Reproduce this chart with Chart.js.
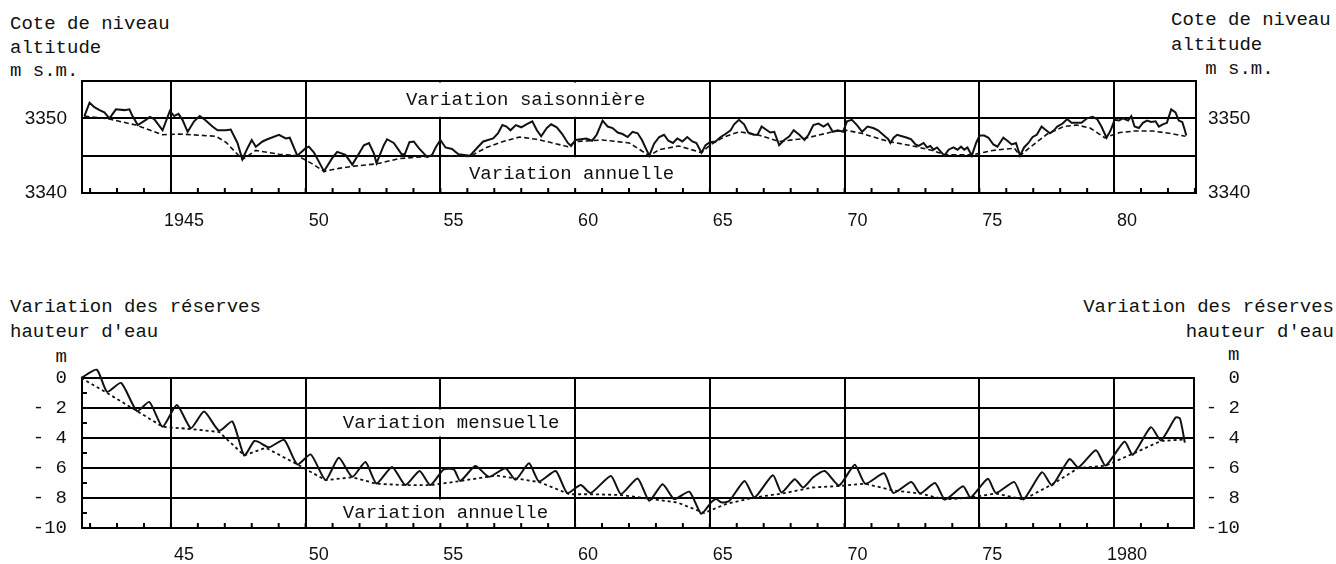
<!DOCTYPE html>
<html>
<head>
<meta charset="utf-8">
<script src="https://cdn.jsdelivr.net/npm/chart.js@4.4.1/dist/chart.umd.min.js"></script>
<style>
  html, body { margin: 0; padding: 0; background: #fff; }
  body { width: 1336px; height: 564px; position: relative; overflow: hidden; }
  canvas { position: absolute; left: 0; }
  #levelChart { top: 0; }
  #reserveChart { top: 260px; }
  .note { position: absolute; font: 19px "Liberation Mono", monospace; color: #111; white-space: pre; }
</style>
</head>
<body>
<div class="note" style="left:10px; top:13px; line-height:23.5px">Cote de niveau
altitude
m s.m.</div>
<div class="note" style="left:1171px; top:8px; line-height:24.5px">Cote de niveau
altitude
   m s.m.</div>
<div class="note" style="left:10px; top:295px; line-height:25px">Variation des réserves
hauteur d'eau
    m</div>
<div class="note" style="right:2px; top:295px; line-height:25px; text-align:right">Variation des réserves
hauteur d'eau</div>
<div class="note" style="left:1228px; top:343px; line-height:25px">m</div>

<canvas id="levelChart" width="1336" height="250"></canvas>
<canvas id="reserveChart" width="1336" height="304"></canvas>

<script>
// --- data ---------------------------------------------------------------
// lake level, seasonal readings (m above sea)
const levelYears = [
  1941.79,1941.98,1942.16,1942.35,1942.53,1942.72,1942.96,1943.27,1943.46,1943.56,1943.77,1944.07,1944.22,1944.38,1944.69,1944.96,
  1945.12,1945.28,1945.43,1945.62,1945.86,1946.07,1946.23,1946.54,1946.73,1947.04,1947.22,1947.47,1947.65,1947.84,1948.00,1948.15,1948.40,1948.58,1949.01,1949.26,1949.41,1949.69,
  1950.00,1950.12,1950.31,1950.49,1950.68,1950.99,1951.17,1951.48,1951.73,1951.98,1952.16,1952.35,1952.53,1952.63,1952.90,1953.02,1953.27,1953.56,1953.68,1953.85,1954.01,1954.20,1954.51,1954.69,1954.84,
  1955.00,1955.19,1955.43,1955.67,1956.10,1956.40,1956.59,1956.96,1957.14,1957.30,1957.45,1957.60,1957.80,1958.00,1958.19,1958.41,1958.58,1958.74,1958.95,1959.11,1959.32,1959.52,1959.73,1959.85,
  1960.01,1960.22,1960.41,1960.63,1960.80,1961.02,1961.21,1961.39,1961.58,1961.76,1961.95,1962.13,1962.32,1962.48,1962.62,1962.75,1962.93,1963.12,1963.30,1963.46,1963.63,1963.79,1963.98,1964.16,1964.35,1964.50,1964.69,1964.84,
  1965.00,1965.21,1965.40,1965.58,1965.77,1965.90,1966.08,1966.27,1966.42,1966.62,1966.77,1966.92,1967.08,1967.24,1967.39,1967.57,1967.76,1967.95,1968.11,1968.32,1968.51,1968.66,1968.84,1969.03,1969.22,1969.38,1969.56,1969.75,1969.94,
  1970.09,1970.27,1970.46,1970.65,1970.85,1971.06,1971.24,1971.43,1971.62,1971.70,1971.82,1971.95,1972.13,1972.32,1972.47,1972.63,1972.75,1972.93,1973.06,1973.18,1973.30,1973.43,1973.55,1973.70,1973.86,1974.04,1974.19,1974.32,1974.44,1974.56,1974.72,1974.88,
  1975.01,1975.18,1975.34,1975.52,1975.67,1975.89,1976.04,1976.20,1976.36,1976.51,1976.66,1976.82,1976.98,1977.13,1977.31,1977.44,1977.62,1977.77,1977.89,1978.09,1978.26,1978.42,1978.61,1978.79,1979.00,1979.20,1979.37,1979.53,1979.72,1979.86,
  1980.02,1980.18,1980.33,1980.52,1980.64,1980.76,1980.92,1981.07,1981.22,1981.38,1981.54,1981.66,1981.81,1981.96,1982.12,1982.28,1982.40,1982.53,1982.61,1982.68
];
const levelSeason = [
  3350.3,3352.1,3351.5,3351.1,3350.8,3350.0,3351.2,3351.1,3351.2,3350.4,3349.1,3349.8,3350.2,3349.9,3348.4,3351.0,
  3350.3,3350.6,3349.8,3348.2,3349.6,3350.3,3349.9,3348.9,3348.4,3348.4,3348.5,3346.7,3344.5,3346.0,3347.1,3346.2,3346.9,3347.2,3347.8,3347.3,3347.4,3345.0,
  3346.0,3346.2,3345.4,3344.2,3342.9,3344.7,3345.5,3345.1,3343.8,3345.3,3346.4,3346.7,3345.3,3344.0,3346.4,3347.2,3346.7,3345.2,3345.2,3346.8,3346.9,3346.0,3344.8,3345.1,3346.2,
  3347.1,3346.1,3345.9,3345.2,3345.0,3346.2,3346.9,3347.3,3348.0,3349.1,3348.9,3348.4,3349.1,3348.8,3349.2,3349.6,3348.4,3347.6,3348.7,3349.2,3348.8,3347.9,3346.7,3346.3,
  3347.1,3347.2,3347.3,3347.0,3347.8,3349.7,3348.9,3348.7,3348.1,3347.9,3347.5,3348.2,3348.0,3347.1,3346.0,3345.0,3346.6,3347.5,3347.8,3347.0,3346.7,3347.3,3346.9,3347.5,3346.9,3346.7,3345.4,3346.4,
  3346.8,3346.9,3347.5,3347.9,3348.4,3349.2,3349.8,3349.2,3348.1,3347.8,3347.8,3348.9,3348.5,3348.1,3348.2,3346.4,3347.1,3347.6,3348.4,3347.8,3347.1,3347.8,3349.1,3349.3,3348.9,3349.3,3348.2,3348.4,3348.2,
  3349.6,3349.8,3349.1,3348.2,3348.9,3348.7,3348.4,3347.8,3347.2,3346.7,3347.4,3347.8,3347.6,3347.4,3347.2,3346.5,3346.3,3346.7,3346.1,3346.3,3345.8,3346.1,3345.6,3345.0,3345.8,3346.1,3345.8,3346.2,3345.8,3346.1,3345.0,3346.7,
  3347.7,3347.7,3347.4,3346.5,3346.2,3347.4,3347.0,3346.5,3346.7,3345.0,3346.1,3346.7,3347.5,3347.8,3348.9,3348.5,3348.0,3348.4,3348.9,3349.3,3349.9,3349.4,3349.4,3349.4,3350.0,3350.2,3349.9,3348.9,3347.4,3348.3,
  3349.8,3349.7,3350.0,3349.7,3350.3,3348.9,3348.7,3349.4,3349.7,3349.5,3349.6,3348.9,3349.2,3349.4,3351.2,3350.8,3349.7,3349.5,3348.6,3347.7
];
// lake level, annual readings
const levelAnnualYears = [
  1941.79,1942.72,1943.70,1944.69,1945.31,1946.67,1947.04,1947.65,1948.15,1949.01,1949.69,1950.25,1950.68,1951.23,1951.79,1952.63,1953.46,1954.51,1955.00,1956.10,
  1956.71,1957.33,1957.94,1958.56,1959.17,1959.73,1960.04,1961.02,1962.01,1962.75,1963.12,1963.85,1964.69,1965.00,1965.52,1966.08,1966.77,1967.57,1968.51,1969.56,
  1970.06,1970.62,1971.62,1972.40,1973.26,1973.74,1974.72,1975.50,1976.30,1976.51,1976.91,1977.52,1978.13,1978.62,1979.11,1979.66,1980.21,1980.76,1981.43,1982.04,1982.65
];
const levelAnnual = [
  3350.3,3349.9,3349.1,3347.8,3347.9,3347.6,3346.8,3344.5,3345.7,3345.2,3345.0,3343.9,3342.9,3343.3,3343.6,3343.9,3344.6,3344.9,3345.0,3344.9,
  3346.1,3346.9,3347.5,3347.2,3346.7,3346.2,3346.9,3347.1,3346.7,3345.0,3345.8,3346.3,3345.4,3346.4,3347.5,3348.2,3347.8,3346.9,3347.3,3348.2,
  3348.4,3348.0,3346.9,3346.4,3345.7,3345.1,3345.1,3345.7,3346.0,3345.0,3346.2,3347.9,3348.9,3349.1,3348.7,3347.4,3348.1,3348.3,3348.3,3348.0,3347.6
];

// storage change, monthly readings (m of water)
const resYears = [
  1941.67,1942.25,1942.63,1943.15,1943.74,1944.20,1944.69,1945.22,1945.74,1946.23,1946.79,1947.28,1947.72,1948.09,1948.27,1948.64,1949.20,1949.69,
  1950.19,1950.74,1951.23,1951.73,1952.22,1952.63,1953.21,1953.70,1954.23,1954.63,1955.12,1955.50,1955.74,1956.30,1956.80,1957.42,1957.79,1958.29,1958.66,1959.28,1959.71,
  1960.21,1960.58,1961.33,1961.70,1962.32,1962.75,1963.25,1963.68,1964.24,1964.68,1965.05,1965.24,1965.42,1965.72,1966.29,1966.66,1967.34,1967.66,1968.15,1968.46,1968.85,1969.27,1969.80,
  1970.38,1970.77,1971.47,1971.81,1972.48,1972.81,1973.36,1973.73,1974.40,1974.68,1975.32,1975.62,1976.30,1976.64,1977.33,1977.70,1978.35,1978.68,1979.33,1979.69,
  1980.39,1980.70,1981.37,1981.74,1982.29,1982.45,1982.63
];
const resMonthly = [
  0.0,0.55,-0.92,-0.33,-2.2,-1.6,-3.25,-1.8,-3.34,-2.24,-3.52,-2.9,-5.16,-4.2,-4.28,-4.62,-4.13,-5.76,
  -5.1,-6.81,-5.32,-6.59,-5.6,-7.03,-5.93,-7.14,-6.2,-7.14,-6.1,-6.09,-6.86,-5.87,-6.59,-6.02,-6.79,-5.69,-6.9,-6.2,-7.67,
  -7.14,-7.67,-6.53,-7.74,-6.7,-8.18,-7.08,-8.07,-7.58,-9.05,-8.29,-8.07,-8.29,-8.2,-6.86,-7.96,-6.48,-7.63,-6.75,-7.3,-6.6,-6.2,-7.16,
  -5.78,-7.05,-6.35,-7.66,-6.94,-7.7,-7.0,-8.1,-7.22,-7.96,-6.72,-7.66,-6.94,-8.1,-6.28,-7.16,-5.4,-5.95,-4.81,-5.84,
  -4.24,-5.12,-3.28,-4.16,-2.63,-2.7,-4.31
];
// storage change, annual readings
const resAnnualYears = [
  1941.67,1942.63,1943.74,1944.69,1945.74,1946.79,1947.72,1948.52,1949.69,1950.74,1951.73,1952.63,1953.70,1954.63,1955.47,1957.07,1958.68,1959.79,1960.65,1961.70,
  1962.75,1963.80,1964.79,1965.60,1966.66,1967.70,1968.80,1969.80,1970.77,1971.81,1972.81,1973.73,1974.68,1975.62,1976.64,1977.70,1978.68,1979.69,1980.70,1981.74,1982.63
];
const resAnnual = [
  0.0,-1.0,-2.2,-3.25,-3.4,-3.6,-5.16,-4.65,-5.76,-6.81,-6.62,-7.05,-7.14,-7.14,-6.94,-6.5,-6.94,-7.75,-7.75,-7.8,
  -8.05,-8.3,-9.0,-8.4,-7.96,-7.7,-7.3,-7.2,-7.05,-7.5,-7.7,-8.1,-7.96,-7.7,-8.1,-7.1,-6.0,-5.84,-5.05,-4.2,-4.1
];

// axis labels
const labelYears = [1945, 1950, 1955, 1960, 1965, 1970, 1975, 1980];
const levelYearLabels = ['1945', '50', '55', '60', '65', '70', '75', '80'];
const reserveYearLabels = ['45', '50', '55', '60', '65', '70', '75', '1980'];
const levelTickValues = [3340, 3350];
const reserveTickValues = [0, -2, -4, -6, -8, -10];
const reserveTickLabels = ['0', '- 2', '- 4', '- 6', '- 8', '-10'];
const reserveMinorTicks = [-1, -3, -5, -7, -9];

const INK = '#111';
const SANS = '"Liberation Sans", Arial, sans-serif';
const MONO = '"Liberation Mono", "Courier New", monospace';

function points(xs, ys) {
    return xs.map((x, i) => ({x: x, y: ys[i]}));
}

// band captions (white ground stops the vertical grid there) + inward yearly ticks
const decor = {
    id: 'decor',
    beforeDatasetsDraw(chart, args, opts) {
        const ctx = chart.ctx;
        const a = chart.chartArea;
        const x = chart.scales.x, y = chart.scales.y;
        ctx.save();
        ctx.font = '19px ' + MONO;
        ctx.textBaseline = 'middle';
        (opts.bands || []).forEach(b => {
            const x0 = x.getPixelForValue(b.year);
            const y0 = y.getPixelForValue(b.top) + 1.5;
            const y1 = y.getPixelForValue(b.bottom) - 1.5;
            const w = ctx.measureText(b.text).width;
            ctx.fillStyle = '#fff';
            ctx.fillRect(x0 - 6, y0, w + 12, y1 - y0);
            ctx.fillStyle = INK;
            ctx.fillText(b.text, x0, (y0 + y1) / 2);
        });
        ctx.strokeStyle = '#000';
        ctx.lineWidth = 2;
        ctx.beginPath();
        for (let yr = Math.ceil(x.min); yr <= x.max; yr++) {
            const px = x.getPixelForValue(yr);
            ctx.moveTo(px, a.bottom);
            ctx.lineTo(px, a.bottom - 5);
        }
        (opts.minorY || []).forEach(v => {
            const py = y.getPixelForValue(v);
            ctx.moveTo(a.left, py);
            ctx.lineTo(a.left + 5, py);
        });
        ctx.stroke();
        ctx.restore();
    }
};

function yearAxis(max, names, height, pad) {
    return {
        type: 'linear',
        min: 1941.7,
        max: max,
        afterBuildTicks: s => {
            const t = [];
            for (let yr = 1942; yr <= Math.floor(max); yr++) t.push({value: yr});
            s.ticks = t;
        },
        afterFit: s => { s.height = height; },
        grid: {
            color: c => (c.tick && labelYears.includes(c.tick.value)) ? '#000' : 'rgba(0,0,0,0)',
            lineWidth: 2,
            drawTicks: false
        },
        border: {color: '#000', width: 2},
        ticks: {
            autoSkip: false,
            maxRotation: 0,
            padding: pad,
            labelOffset: 13,
            color: INK,
            font: {family: SANS, size: 18},
            callback: v => {
                const i = labelYears.indexOf(v);
                return i < 0 ? '' : names[i];
            }
        }
    };
}

const base = {
    responsive: false,
    animation: false,
    events: [],
    elements: {point: {radius: 0}, line: {tension: 0}}
};

new Chart(document.getElementById('levelChart').getContext('2d'), {
    type: 'line',
    data: {
        datasets: [
            {data: points(levelYears, levelSeason), borderColor: INK, borderWidth: 2, clip: false},
            {data: points(levelAnnualYears, levelAnnual), borderColor: INK, borderWidth: 1.6, borderDash: [5, 3], clip: false}
        ]
    },
    options: Object.assign({}, base, {
        layout: {padding: {top: 81, left: 0, right: 0, bottom: 0}},
        scales: {
            x: yearAxis(1983.04, levelYearLabels, 57, 17),
            y: {
                position: 'left', min: 3340, max: 3355,
                afterFit: s => { s.width = 82; },
                grid: {color: '#000', lineWidth: 2, drawTicks: false},
                border: {color: '#000', width: 2},
                ticks: {stepSize: 5, padding: 15, color: INK, font: {family: SANS, size: 19},
                    callback: v => levelTickValues.includes(v) ? String(v) : ''}
            },
            y2: {
                position: 'right', min: 3340, max: 3355,
                afterFit: s => { s.width = 140; },
                grid: {display: false, drawTicks: false},
                border: {color: '#000', width: 2},
                ticks: {stepSize: 5, padding: 12, color: INK, font: {family: SANS, size: 19},
                    callback: v => levelTickValues.includes(v) ? String(v) : ''}
            }
        },
        plugins: {
            legend: {display: false},
            tooltip: {enabled: false},
            decor: {
                bands: [
                    {text: 'Variation saisonnière', year: 1953.72, top: 3355, bottom: 3350},
                    {text: 'Variation annuelle', year: 1956.06, top: 3345, bottom: 3340}
                ]
            }
        }
    }),
    plugins: [decor]
});

new Chart(document.getElementById('reserveChart').getContext('2d'), {
    type: 'line',
    data: {
        datasets: [
            {data: points(resYears, resMonthly), borderColor: INK, borderWidth: 2, tension: 0.2, clip: false},
            {data: points(resAnnualYears, resAnnual), borderColor: INK, borderWidth: 1.8, borderDash: [3, 3], clip: false}
        ]
    },
    options: Object.assign({}, base, {
        layout: {padding: {top: 118, left: 0, right: 96, bottom: 0}},
        scales: {
            x: yearAxis(1982.97, reserveYearLabels, 36, 16),
            y: {
                position: 'left', min: -10, max: 0,
                afterFit: s => { s.width = 82; },
                grid: {color: '#000', lineWidth: 2, drawTicks: false},
                border: {color: '#000', width: 2},
                ticks: {stepSize: 2, padding: 15, color: INK, font: {family: MONO, size: 19},
                    callback: v => { const i = reserveTickValues.indexOf(v); return i < 0 ? '' : reserveTickLabels[i]; }}
            },
            y2: {
                position: 'right', min: -10, max: 0,
                afterFit: s => { s.width = 46; },
                grid: {display: false, drawTicks: false},
                border: {color: '#000', width: 2},
                ticks: {stepSize: 2, padding: 12, crossAlign: 'far', color: INK, font: {family: MONO, size: 19},
                    callback: v => { const i = reserveTickValues.indexOf(v); return i < 0 ? '' : reserveTickLabels[i]; }}
            }
        },
        plugins: {
            legend: {display: false},
            tooltip: {enabled: false},
            decor: {
                minorY: reserveMinorTicks,
                bands: [
                    {text: 'Variation mensuelle', year: 1951.38, top: -2, bottom: -4},
                    {text: 'Variation annuelle', year: 1951.38, top: -8, bottom: -10}
                ]
            }
        }
    }),
    plugins: [decor]
});
</script>
</body>
</html>
